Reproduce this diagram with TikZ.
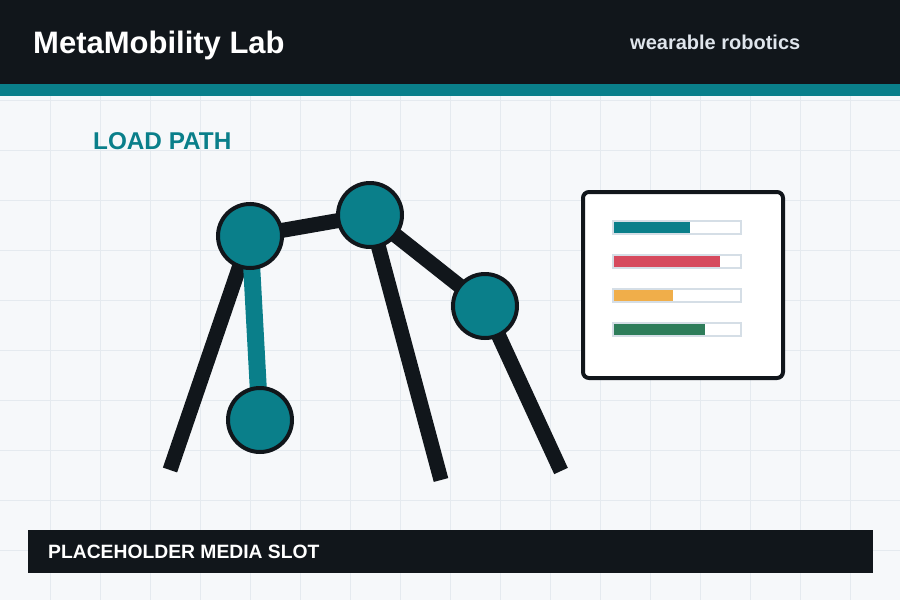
\documentclass[tikz,border=0pt]{standalone}
\usepackage{fontspec}
\setmainfont{Liberation Sans}
\definecolor{ink}{HTML}{11161B}
\definecolor{sea}{HTML}{0A7F8A}
\definecolor{paper}{HTML}{F6F8FA}
\definecolor{gridline}{HTML}{E5EAEF}
\definecolor{track}{HTML}{D5DEE6}
\definecolor{subtle}{HTML}{DFE5EC}
\definecolor{barred}{HTML}{D64A5E}
\definecolor{barorange}{HTML}{F0AE4A}
\definecolor{bargreen}{HTML}{2E7D5A}
\pgfdeclarelayer{base}
\pgfdeclarelayer{links}
\pgfsetlayers{base,links,main}
\begin{document}
\begin{tikzpicture}[x=1pt, y=-1pt,
    joint/.style={circle, draw=ink, line width=4pt, fill=sea, minimum size=64pt, inner sep=0pt},
    bone/.style={draw=ink, line width=15pt},
    shin/.style={draw=sea, line width=17pt},
    label/.style={inner sep=0pt, anchor=base west, font=\bfseries}]
    \useasboundingbox (0,0) rectangle (900,600);
    \begin{pgfonlayer}{base}
        \fill[paper] (0,0) rectangle (900,600);
        \foreach \x in {50,100,...,850}
            \draw[gridline, line width=1pt] (\x,0) -- (\x,600);
        \foreach \y in {50,100,...,550}
            \draw[gridline, line width=1pt] (0,\y) -- (900,\y);
    \end{pgfonlayer}
    \fill[ink] (0,0) rectangle (900,84);
    \fill[sea] (0,84) rectangle (900,96);
    \node[label, white, font=\fontsize{31}{37}\selectfont\bfseries] (title) at (33,53) {MetaMobility Lab};
    \node[label, subtle, font=\fontsize{20}{24}\selectfont\bfseries] (tagline) at (630,49) {wearable robotics};
    \node[label, sea, font=\fontsize{24.3}{29}\selectfont\bfseries] (heading) at (93,149) {LOAD PATH};
    \node[joint] (hip) at (250,236) {};
    \node[joint] (shoulder) at (370,215) {};
    \node[joint] (elbow) at (485,306) {};
    \node[joint] (knee) at (260,420) {};
    \coordinate (footL) at (170,470);
    \coordinate (footM) at (441,480);
    \coordinate (footR) at (561,471);
    \begin{pgfonlayer}{links}
        \draw[bone] (hip.center) -- (footL);
        \draw[bone] (hip.center) -- (shoulder.center);
        \draw[bone] (shoulder.center) -- (footM);
        \draw[bone] (shoulder.center) -- (elbow.center);
        \draw[bone] (elbow.center) -- (footR);
        \draw[shin] (hip.center) -- (knee.center);
    \end{pgfonlayer}
    \draw[ink, fill=white, line width=4pt, rounded corners=6pt] (583,192) rectangle (783,378);
    \foreach \y/\v/\c in {221/0.6/sea, 255/0.836/barred, 289/0.47/barorange, 323/0.72/bargreen} {
        \fill[\c] (614,\y+1) rectangle (613+128*\v,\y+12);
        \draw[track, line width=2pt] (613,\y) rectangle (741,\y+13);
    }
    \fill[ink] (28,530) rectangle (873,573);
    \node[label, white, font=\fontsize{19.3}{23}\selectfont\bfseries] (slot) at (48,558) {PLACEHOLDER MEDIA SLOT};
\end{tikzpicture}
\end{document}
